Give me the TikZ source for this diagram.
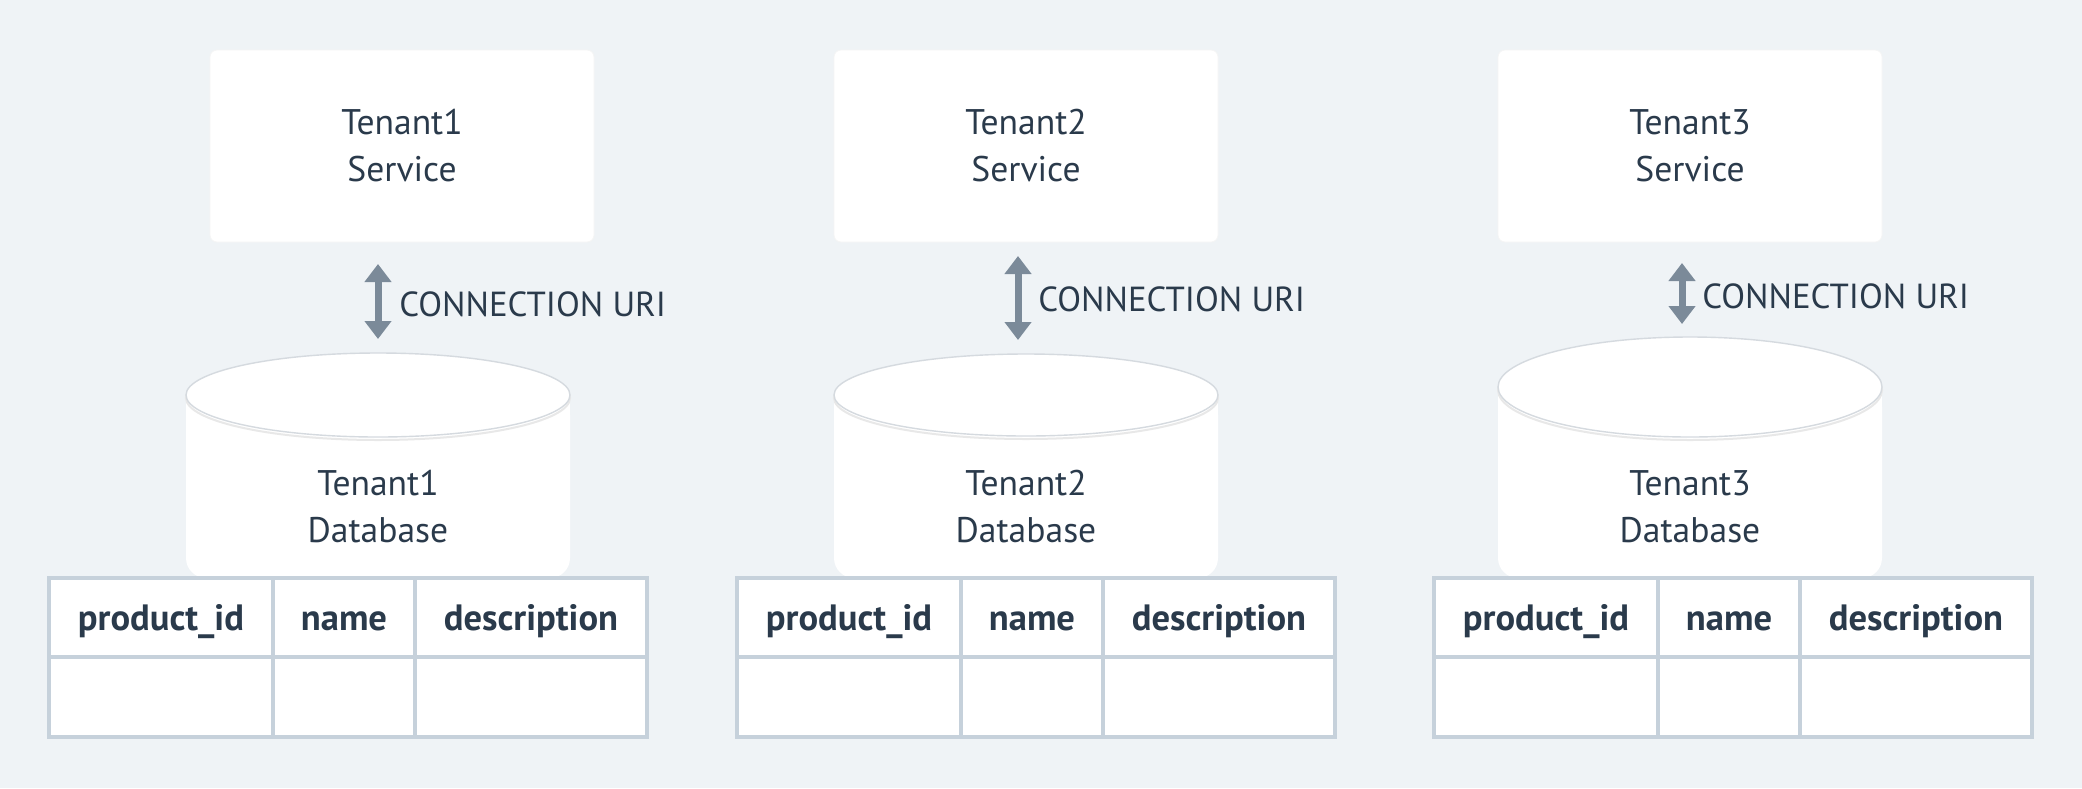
\documentclass[tikz,border=0pt]{standalone}
\usepackage{fontspec}
\setmainfont{PT Sans}
\usetikzlibrary{positioning,arrows.meta}
\definecolor{bgcol}{HTML}{EFF3F6}
\definecolor{ink}{HTML}{2A3A4B}
\definecolor{pipe}{HTML}{7B8A99}
\definecolor{gridcol}{HTML}{C6D1DB}
\definecolor{rimcol}{HTML}{D5DADF}

\begin{document}
\begin{tikzpicture}[x=0.5pt,y=-0.5pt]
  \tikzstyle{service}=[rectangle,rounded corners=3.5pt,fill=white,draw=black!4,line width=0.4pt,minimum width=192pt,minimum height=96pt,align=center,text=ink,font=\fontsize{17.8}{23.5}\selectfont]
  \tikzstyle{dbtext}=[align=center,text=ink,font=\fontsize{17.8}{23.5}\selectfont]
  \tikzstyle{uri}=[text=ink,font=\fontsize{17.4}{20}\selectfont,inner sep=0pt,anchor=west]
  \tikzstyle{link}=[draw=pipe,line width=3.5pt,{Triangle[width=13pt,length=9pt]}-{Triangle[width=13pt,length=9pt]}]
  \tikzstyle{hdcell}=[rectangle,draw=gridcol,fill=white,line width=1.8pt,outer sep=0pt,inner sep=0pt,minimum height=39.5pt,text height=12.6pt,text depth=0pt,text=ink,font=\fontsize{18.3}{20}\selectfont\bfseries]
  \tikzstyle{bdcell}=[hdcell,minimum height=40pt]
  \tikzstyle{rim}=[draw=rimcol,line width=0.7pt,fill=white]
  \tikzstyle{rimshadow}=[draw=black!9,line width=1pt]

  \path[use as bounding box,fill=bgcol] (0,0) rectangle (2082,788);

  % services
  \node[service] (svc1) at (402,146)  {Tenant1\\Service};
  \node[service] (svc2) at (1026,146) {Tenant2\\Service};
  \node[service] (svc3) at (1690,146) {Tenant3\\Service};

  % databases
  \fill[white,rounded corners=10pt] (186,395) rectangle (570,578);
  \fill[white] (186,395) rectangle (570,450);
  \draw[rimshadow] (378,398) ellipse (96pt and 21pt);
  \draw[rim] (378,395) ellipse (96pt and 21pt);
  \node[dbtext] (db1) at (378,507) {Tenant1\\Database};

  \fill[white,rounded corners=10pt] (834,395) rectangle (1218,578);
  \fill[white] (834,395) rectangle (1218,450);
  \draw[rimshadow] (1026,398) ellipse (96pt and 20.5pt);
  \draw[rim] (1026,395) ellipse (96pt and 20.5pt);
  \node[dbtext] (db2) at (1026,507) {Tenant2\\Database};

  \fill[white,rounded corners=10pt] (1498,387) rectangle (1882,578);
  \fill[white] (1498,387) rectangle (1882,450);
  \draw[rimshadow] (1690,390) ellipse (96pt and 25pt);
  \draw[rim] (1690,387) ellipse (96pt and 25pt);
  \node[dbtext] (db3) at (1690,507) {Tenant3\\Database};

  % connection arrows
  \coordinate (a1s) at (378,264);
  \coordinate (a1e) at (378,339);
  \draw[link] (a1s) -- (a1e);
  \node[uri] (uri1) at (399,304) {CONNECTION URI};

  \coordinate (a2s) at (1018,256);
  \coordinate (a2e) at (1018,340);
  \draw[link] (a2s) -- (a2e);
  \node[uri] (uri2) at (1038,299) {CONNECTION URI};

  \coordinate (a3s) at (1682,263);
  \coordinate (a3e) at (1682,324);
  \draw[link] (a3s) -- (a3e);
  \node[uri] (uri3) at (1702,296) {CONNECTION URI};

  % tables
  \node[hdcell,minimum width=112pt] (id1) at (161,617.5) {product\_id};
  \node[hdcell,minimum width=71pt,right=0pt of id1] (nm1) {name};
  \node[hdcell,minimum width=116pt,right=0pt of nm1] (ds1) {description};
  \node[bdcell,minimum width=112pt,below=0pt of id1] (id1b) {};
  \node[bdcell,minimum width=71pt,below=0pt of nm1] (nm1b) {};
  \node[bdcell,minimum width=116pt,below=0pt of ds1] (ds1b) {};

  \node[hdcell,minimum width=112pt] (id2) at (849,617.5) {product\_id};
  \node[hdcell,minimum width=71pt,right=0pt of id2] (nm2) {name};
  \node[hdcell,minimum width=116pt,right=0pt of nm2] (ds2) {description};
  \node[bdcell,minimum width=112pt,below=0pt of id2] (id2b) {};
  \node[bdcell,minimum width=71pt,below=0pt of nm2] (nm2b) {};
  \node[bdcell,minimum width=116pt,below=0pt of ds2] (ds2b) {};

  \node[hdcell,minimum width=112pt] (id3) at (1546,617.5) {product\_id};
  \node[hdcell,minimum width=71pt,right=0pt of id3] (nm3) {name};
  \node[hdcell,minimum width=116pt,right=0pt of nm3] (ds3) {description};
  \node[bdcell,minimum width=112pt,below=0pt of id3] (id3b) {};
  \node[bdcell,minimum width=71pt,below=0pt of nm3] (nm3b) {};
  \node[bdcell,minimum width=116pt,below=0pt of ds3] (ds3b) {};
\end{tikzpicture}
\end{document}
